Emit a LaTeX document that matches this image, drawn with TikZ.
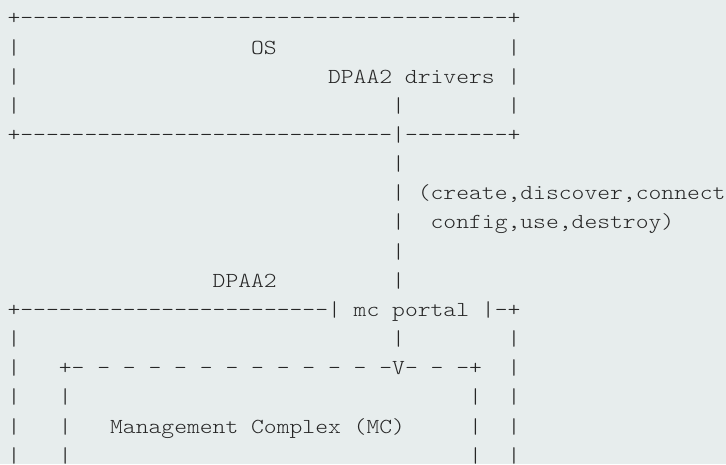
\documentclass[tikz,border=0pt]{standalone}
\usepackage{fontspec}
\setmonofont{lmmonolt10-regular}[Extension=.otf,FakeStretch=1.1428]
\definecolor{bgc}{HTML}{E7EDED}
\definecolor{ink}{HTML}{262626}
\tikzset{asc/.style={anchor=base west,inner sep=0pt,outer sep=0pt,text=ink,
  font=\ttfamily\frenchspacing\fontsize{21.37}{25}\selectfont}}
\newcommand\cw{12.82}
\newcommand\xo{7.59}
\newcommand\yo{24.9}
\newcommand\lh{29.15}
\newcommand\asct[4]{\node[asc] (#1) at ({\xo+#2*\cw},{-\yo-#3*\lh}) {#4};}
\begin{document}
\begin{tikzpicture}[x=1pt,y=1pt]
\fill[bgc] (0,0) rectangle (726,-464);
\useasboundingbox (0,0) rectangle (726,-464);
\clip (0,0) rectangle (726,-464);
% OS box
\asct{ostop}{0}{0}{+--------------------------------------+}
\asct{osl1}{0}{1}{|}\asct{os}{19}{1}{OS}\asct{osr1}{39}{1}{|}
\asct{osl2}{0}{2}{|}\asct{drv}{25}{2}{DPAA2 drivers}\asct{osr2}{39}{2}{|}
\asct{osl3}{0}{3}{|}\asct{link3}{30}{3}{|}\asct{osr3}{39}{3}{|}
\asct{osbot}{0}{4}{+-----------------------------|--------+}
% link
\asct{link5}{30}{5}{|}
\asct{link6}{30}{6}{|}\asct{ops1}{32}{6}{(create,discover,connect}
\asct{link7}{30}{7}{|}\asct{ops2}{33}{7}{config,use,destroy)}
\asct{link8}{30}{8}{|}
\asct{dpaa}{16}{9}{DPAA2}\asct{link9}{30}{9}{|}
% DPAA2 box
\asct{dptop}{0}{10}{+------------------------| mc portal |-+}
\asct{dpl11}{0}{11}{|}\asct{link11}{30}{11}{|}\asct{dpr11}{39}{11}{|}
\asct{dpl12}{0}{12}{|}\asct{mctop}{4}{12}{+- - - - - - - - - - - - -V- - -+}\asct{dpr12}{39}{12}{|}
\asct{dpl13}{0}{13}{|}\asct{mcl13}{4}{13}{|}\asct{mcr13}{36}{13}{|}\asct{dpr13}{39}{13}{|}
\asct{dpl14}{0}{14}{|}\asct{mcl14}{4}{14}{|}\asct{mc}{8}{14}{Management Complex (MC)}\asct{mcr14}{36}{14}{|}\asct{dpr14}{39}{14}{|}
\asct{dpl15}{0}{15}{|}\asct{mcl15}{4}{15}{|}\asct{mcr15}{36}{15}{|}\asct{dpr15}{39}{15}{|}
\end{tikzpicture}
\end{document}
